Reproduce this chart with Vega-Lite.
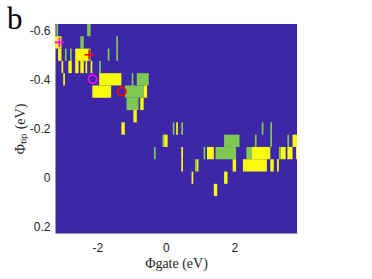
{
  "$schema": "https://vega.github.io/schema/vega-lite/v6.json",
  "width": 242,
  "height": 209,
  "autosize": "none",
  "padding": {"left": 55, "top": 24, "right": 75, "bottom": 46},
  "background": "white",
  "title": {"text": "b", "font": "Liberation Serif", "fontSize": 31, "fontWeight": "normal", "color": "#000000", "anchor": "start", "frame": "group", "orient": "top", "offset": 0, "baseline": "alphabetic", "dx": -48, "dy": 36},
  "config": {"view": {"stroke": null, "fill": "#3E26A8"}},
  "datasets": {
    "cells": [
      {"g0": -3.2, "g1": -3.15, "t0": -0.625, "t1": -0.575, "v": "G"},
      {"g0": -2.3, "g1": -2.2, "t0": -0.625, "t1": -0.575, "v": "G"},
      {"g0": -3.3, "g1": -3.05, "t0": -0.575, "t1": -0.525, "v": "Y"},
      {"g0": -2.5, "g1": -2.4, "t0": -0.575, "t1": -0.525, "v": "G"},
      {"g0": -1.45, "g1": -1.4, "t0": -0.575, "t1": -0.525, "v": "G"},
      {"g0": -3.15, "g1": -3.05, "t0": -0.525, "t1": -0.475, "v": "Y"},
      {"g0": -2.95, "g1": -2.9, "t0": -0.525, "t1": -0.475, "v": "G"},
      {"g0": -2.8, "g1": -2.75, "t0": -0.525, "t1": -0.475, "v": "G"},
      {"g0": -2.65, "g1": -2.25, "t0": -0.525, "t1": -0.475, "v": "Y"},
      {"g0": -2.25, "g1": -2.2, "t0": -0.525, "t1": -0.475, "v": "G"},
      {"g0": -1.7, "g1": -1.65, "t0": -0.525, "t1": -0.475, "v": "G"},
      {"g0": -1.45, "g1": -1.4, "t0": -0.525, "t1": -0.475, "v": "G"},
      {"g0": -3.05, "g1": -3.0, "t0": -0.475, "t1": -0.425, "v": "Y"},
      {"g0": -2.85, "g1": -2.75, "t0": -0.475, "t1": -0.425, "v": "Y"},
      {"g0": -2.65, "g1": -2.55, "t0": -0.475, "t1": -0.425, "v": "Y"},
      {"g0": -2.5, "g1": -2.4, "t0": -0.475, "t1": -0.425, "v": "Y"},
      {"g0": -2.35, "g1": -2.3, "t0": -0.475, "t1": -0.425, "v": "Y"},
      {"g0": -2.2, "g1": -2.15, "t0": -0.475, "t1": -0.425, "v": "Y"},
      {"g0": -1.95, "g1": -1.9, "t0": -0.475, "t1": -0.425, "v": "G"},
      {"g0": -3.0, "g1": -2.95, "t0": -0.425, "t1": -0.375, "v": "Y"},
      {"g0": -1.95, "g1": -1.3, "t0": -0.425, "t1": -0.375, "v": "Y"},
      {"g0": -1.0, "g1": -0.95, "t0": -0.425, "t1": -0.375, "v": "G"},
      {"g0": -0.85, "g1": -0.5, "t0": -0.425, "t1": -0.375, "v": "G"},
      {"g0": -2.15, "g1": -1.6, "t0": -0.375, "t1": -0.325, "v": "Y"},
      {"g0": -1.2, "g1": -0.65, "t0": -0.375, "t1": -0.325, "v": "G"},
      {"g0": -0.65, "g1": -0.55, "t0": -0.375, "t1": -0.325, "v": "Y"},
      {"g0": -1.15, "g1": -0.8, "t0": -0.325, "t1": -0.275, "v": "G"},
      {"g0": -0.75, "g1": -0.65, "t0": -0.325, "t1": -0.275, "v": "Y"},
      {"g0": -0.95, "g1": -0.85, "t0": -0.275, "t1": -0.225, "v": "Y"},
      {"g0": -1.3, "g1": -1.2, "t0": -0.225, "t1": -0.175, "v": "Y"},
      {"g0": 0.2, "g1": 0.25, "t0": -0.225, "t1": -0.175, "v": "G"},
      {"g0": 0.3, "g1": 0.35, "t0": -0.225, "t1": -0.175, "v": "Y"},
      {"g0": 0.45, "g1": 0.5, "t0": -0.225, "t1": -0.175, "v": "G"},
      {"g0": 2.8, "g1": 2.85, "t0": -0.225, "t1": -0.175, "v": "G"},
      {"g0": 3.05, "g1": 3.1, "t0": -0.225, "t1": -0.175, "v": "G"},
      {"g0": -0.1, "g1": -0.05, "t0": -0.175, "t1": -0.125, "v": "G"},
      {"g0": -0.05, "g1": 0.05, "t0": -0.175, "t1": -0.125, "v": "Y"},
      {"g0": 1.7, "g1": 2.15, "t0": -0.175, "t1": -0.125, "v": "G"},
      {"g0": 2.6, "g1": 2.65, "t0": -0.175, "t1": -0.125, "v": "G"},
      {"g0": 3.05, "g1": 3.1, "t0": -0.175, "t1": -0.125, "v": "G"},
      {"g0": 3.55, "g1": 3.6, "t0": -0.175, "t1": -0.125, "v": "G"},
      {"g0": 3.7, "g1": 3.85, "t0": -0.175, "t1": -0.125, "v": "Y"},
      {"g0": -0.35, "g1": -0.3, "t0": -0.125, "t1": -0.075, "v": "G"},
      {"g0": 0.45, "g1": 0.5, "t0": -0.125, "t1": -0.075, "v": "Y"},
      {"g0": 1.1, "g1": 1.15, "t0": -0.125, "t1": -0.075, "v": "G"},
      {"g0": 1.2, "g1": 1.4, "t0": -0.125, "t1": -0.075, "v": "Y"},
      {"g0": 1.45, "g1": 2.05, "t0": -0.125, "t1": -0.075, "v": "G"},
      {"g0": 2.35, "g1": 2.5, "t0": -0.125, "t1": -0.075, "v": "G"},
      {"g0": 2.5, "g1": 3.05, "t0": -0.125, "t1": -0.075, "v": "Y"},
      {"g0": 3.3, "g1": 3.35, "t0": -0.125, "t1": -0.075, "v": "G"},
      {"g0": 3.35, "g1": 3.5, "t0": -0.125, "t1": -0.075, "v": "Y"},
      {"g0": 3.55, "g1": 3.7, "t0": -0.125, "t1": -0.075, "v": "Y"},
      {"g0": 3.8, "g1": 3.85, "t0": -0.125, "t1": -0.075, "v": "Y"},
      {"g0": 0.45, "g1": 0.5, "t0": -0.075, "t1": -0.025, "v": "Y"},
      {"g0": 0.85, "g1": 0.9, "t0": -0.075, "t1": -0.025, "v": "G"},
      {"g0": 0.9, "g1": 0.95, "t0": -0.075, "t1": -0.025, "v": "Y"},
      {"g0": 1.95, "g1": 2.05, "t0": -0.075, "t1": -0.025, "v": "Y"},
      {"g0": 2.25, "g1": 2.95, "t0": -0.075, "t1": -0.025, "v": "Y"},
      {"g0": 3.05, "g1": 3.15, "t0": -0.075, "t1": -0.025, "v": "Y"},
      {"g0": 3.25, "g1": 3.3, "t0": -0.075, "t1": -0.025, "v": "Y"},
      {"g0": 0.75, "g1": 0.8, "t0": -0.025, "t1": 0.025, "v": "Y"},
      {"g0": 1.7, "g1": 1.8, "t0": -0.025, "t1": 0.025, "v": "Y"},
      {"g0": 1.4, "g1": 1.5, "t0": 0.025, "t1": 0.075, "v": "Y"}
    ],
    "markers": [
      {"g0": -3.11, "t0": -0.55, "m": "plus", "c": "magenta"},
      {"g0": -2.24, "t0": -0.5, "m": "plus", "c": "red"},
      {"g0": -2.14, "t0": -0.4, "m": "circle", "c": "magenta"},
      {"g0": -1.29, "t0": -0.35, "m": "circle", "c": "red"}
    ]
  },
  "encoding": {
    "x": {
      "field": "g0", "type": "quantitative", "title": "Φgate (eV)",
      "scale": {"domain": [-3.24, 3.83], "nice": false, "zero": false},
      "axis": {"values": [-2, 0, 2], "labelExpr": "replace(replace(format(datum.value, '~g'), '−', '-'), '\u2212', '-')", "ticks": false, "grid": false, "domainColor": "#9a9a9a", "domainWidth": 1, "labelFont": "Liberation Sans", "labelFontSize": 12, "labelColor": "#262626", "labelPadding": 9, "titleFont": "Liberation Serif", "titleFontSize": 14, "titleFontWeight": "normal", "titleColor": "#262626", "titlePadding": 3}
    },
    "y": {
      "field": "t0", "type": "quantitative", "title": "Φₜᵢₚ (eV)",
      "scale": {"domain": [-0.625, 0.225], "reverse": true, "nice": false, "zero": false},
      "axis": {"values": [-0.6, -0.4, -0.2, 0, 0.2], "labelExpr": "replace(replace(format(datum.value, '.1~f'), '−', '-'), '\u2212', '-')", "ticks": false, "grid": false, "domainColor": "#9a9a9a", "domainWidth": 1, "labelFont": "Liberation Sans", "labelFontSize": 12, "labelColor": "#262626", "labelPadding": 5, "titleFont": "Liberation Serif", "titleFontSize": 14, "titleFontWeight": "normal", "titleColor": "#262626", "titlePadding": 2}
    }
  },
  "layer": [
    {
      "data": {"name": "cells"},
      "mark": {"type": "rect", "clip": true},
      "encoding": {
        "x2": {"field": "g1"},
        "y2": {"field": "t1"},
        "fill": {"field": "v", "type": "nominal", "scale": {"domain": ["G", "Y"], "range": ["#80C854", "#F9FB0E"]}, "legend": null}
      }
    },
    {
      "data": {"name": "markers"},
      "mark": {"type": "point", "filled": false, "strokeWidth": 1.7, "opacity": 1},
      "encoding": {
        "shape": {"field": "m", "type": "nominal", "scale": {"domain": ["plus", "circle"], "range": ["M-1,0H1M0,-1V1", "circle"]}, "legend": null},
        "size": {"field": "m", "type": "ordinal", "scale": {"domain": ["plus", "circle"], "range": [90, 69]}, "legend": null},
        "stroke": {"field": "c", "type": "nominal", "scale": {"domain": ["magenta", "red"], "range": ["#FF00FF", "#FF0000"]}, "legend": null}
      }
    }
  ]
}
